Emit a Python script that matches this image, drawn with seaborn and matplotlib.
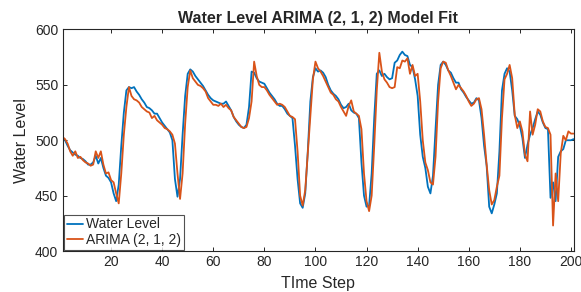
import numpy as np
import pandas as pd
import matplotlib
matplotlib.use('Agg')
import matplotlib.pyplot as plt
import seaborn as sns

# water level readings, one per time step
water_level = [
    502, 500, 495, 491, 489, 487, 486, 484, 483, 481,
    478, 478, 480, 486, 479, 484, 475, 468, 466, 462,
    452, 445, 460, 495, 525, 545, 548, 547, 548, 544,
    541, 537, 534, 530, 529, 527, 524, 524, 520, 516,
    513, 510, 507, 500, 465, 449, 465, 505, 540,
    560, 564, 562, 558, 555, 552, 549, 545, 541, 538,
    536, 535, 534, 533, 533, 535, 531, 527, 521, 517,
    514, 512, 511, 514, 530, 562, 561, 556, 553, 552,
    551, 547, 543, 540, 537, 533, 531, 531, 528,
    524, 522, 520, 495, 465, 443, 439, 452, 490, 535,
    557, 565, 562, 563, 561, 557, 550, 545, 542, 540,
    537, 532, 529, 530, 533, 527, 525, 524, 520, 480,
    450, 440, 441, 470, 520, 560, 563, 558, 560, 557,
    555, 556, 570, 572, 577, 580, 577, 576, 568,
    566, 555, 540, 505, 485, 475, 458, 452, 468, 510,
    550, 568, 571, 568, 563, 561, 556, 552, 552, 546,
    543, 539, 536, 533, 534, 538, 536, 520, 495, 477,
    440, 434,
    442, 452, 490, 545, 560, 565, 562, 545, 522, 519,
    513, 502, 484, 496, 505, 511, 519, 526, 523, 516,
    511, 510, 448, 462, 445, 485, 490, 492, 500, 500,
    500, 501,
]

# fitted ARIMA(2, 1, 2) values
arima_fit = [
    503, 501, 497, 490, 486, 490, 484, 485, 482, 480,
    479, 477, 478, 490, 484, 490, 478, 470, 471, 464,
    462, 452, 443, 470, 505, 530, 548, 540, 537, 536,
    534, 530, 528, 526, 525, 520, 522, 518, 516, 514,
    511, 510, 508, 505, 497, 470, 447, 470, 515,
    548, 563, 556, 553, 550, 549, 547, 544, 538, 535,
    532, 532, 531, 533, 530, 532, 529, 527, 521, 518,
    515, 512, 511, 512, 520, 535, 571, 558, 550, 548,
    548, 545, 541, 538, 535, 532, 533, 532, 530,
    526, 522, 521, 519, 490, 450, 441, 455, 488, 520,
    555, 571, 565, 562, 558, 553, 548, 543, 541, 537,
    535, 530, 526, 522, 531, 536, 526, 524, 522, 510,
    470, 445, 436, 450, 495, 545, 579, 562, 555, 552,
    548, 547, 548, 566, 565, 572, 571, 574, 560,
    568, 558, 560, 535, 500, 480, 473, 462, 460, 485,
    535, 565, 571, 570, 563, 558, 552, 546, 550, 547,
    544, 540, 535, 531, 533, 537, 538, 528, 505, 478,
    455, 442,
    446, 458, 468, 520, 555, 560, 568, 556, 523, 511,
    517, 508, 487, 481, 526, 505, 514, 528, 526, 517,
    512, 511, 505, 423, 470, 445, 488, 504, 500, 508,
    506, 506,
]

time_step = np.arange(1, len(water_level) + 1)
series_names = ['Water Level', 'ARIMA (2, 1, 2)']
x_ticks = list(range(20, 201, 20))
y_ticks = [400, 450, 500, 550, 600]

df = pd.DataFrame({
    'step': np.concatenate([time_step, time_step]),
    'value': water_level + arima_fit,
    'series': [series_names[0]] * len(water_level) + [series_names[1]] * len(arima_fit),
})

sns.set_style('white')
plt.rcParams['font.family'] = ['Liberation Sans', 'DejaVu Sans']

fig = plt.figure(figsize=(5.81, 2.92), dpi=100)
ax = fig.add_axes([0.1076, 0.1404, 0.8795, 0.7586])

palette = {series_names[0]: '#0072BD', series_names[1]: '#D95319'}
sns.lineplot(data=df, x='step', y='value', hue='series', palette=palette,
             linewidth=1.3, ax=ax)

ax.set_xlim(1, len(water_level))
ax.set_ylim(400, 600)
ax.set_xticks(x_ticks)
ax.set_yticks(y_ticks)
ax.tick_params(direction='in', length=3, width=0.7, colors='#262626',
               labelsize=10, top=True, right=True, bottom=True, left=True,
               pad=3)
for s in ax.spines.values():
    s.set_color('#262626')
    s.set_linewidth(0.8)

ax.set_title('Water Level ARIMA (2, 1, 2) Model Fit', fontsize=11.5,
             fontweight='bold', pad=5)
ax.set_xlabel('TIme Step', fontsize=11.5, color='#262626')
ax.set_ylabel('Water Level', fontsize=11.5, color='#262626')
ax.xaxis.set_label_coords(0.5, -0.115)
ax.yaxis.set_label_coords(-0.065, 0.5)

leg = ax.legend(loc='lower left', fontsize=10, frameon=True, fancybox=False,
                handlelength=1.2, handletextpad=0.2, borderpad=0.2,
                labelspacing=0.1, borderaxespad=0.1)
leg.get_frame().set_edgecolor('#262626')
leg.get_frame().set_linewidth(0.8)

fig.savefig('out.png', dpi=100)
